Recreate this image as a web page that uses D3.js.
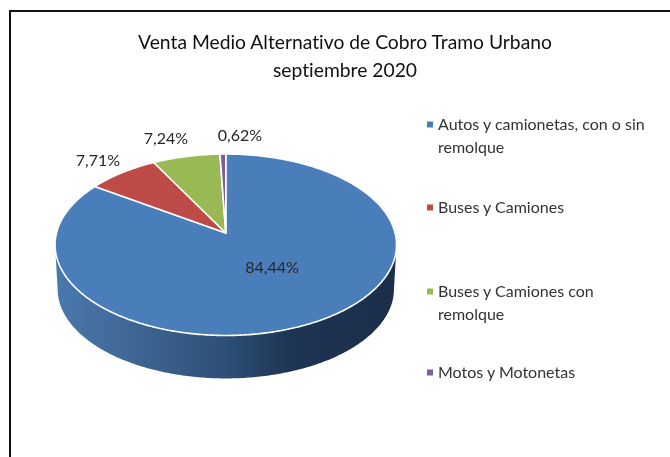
<!DOCTYPE html>
<html><head><meta charset="utf-8">
<script src="https://cdn.jsdelivr.net/npm/d3@7"></script>
<style>html,body{margin:0;padding:0;background:#fff;overflow:hidden}svg{display:block;filter:blur(.55px)}text{font-family:Lato,sans-serif;font-variant-ligatures:none}</style>
</head><body>
<script>
const categories = ["Autos y camionetas, con o sin remolque","Buses y Camiones","Buses y Camiones con remolque","Motos y Motonetas"];
const values = [84.44,7.71,7.24,0.62];
const valueLabels = ["84,44%","7,71%","7,24%","0,62%"];
const colors = ["#4a7ebb","#be4b48","#98b954","#7d5fa0"];
const titleLines = ["Venta Medio Alternativo de Cobro Tramo Urbano","septiembre 2020"];
const legendLines = [["Autos y camionetas, con o sin","remolque"],["Buses y Camiones"],["Buses y Camiones con","remolque"],["Motos y Motonetas"]];

const W=670,H=457;
const svg=d3.select("body").append("svg").attr("width",W).attr("height",H);
svg.append("path").attr("d",`M10,${H}V11H${W}`).attr("fill","none").attr("stroke","#111").attr("stroke-width",2);

// perspective disc projection
const cx=225.8,cy=233,rx=169.3,ry=89.2,k=0.1295;
const proj=(a,r=1,dy=0,s=1)=>{const u=r*Math.sin(a),v=r*Math.cos(a),w=1+k*v;
  return [cx+s*rx*u/w, cy+dy+s*ry*(-v)/w];};
const line=d3.line();
const N=240;
const depth=44.5, sc=0.985;
const ext=Math.acos(-k);
const front=d3.range(N+1).map(i=>ext+(2*Math.PI-2*ext)*i/N);

const defs=svg.append("defs");
const grad=defs.append("linearGradient").attr("id","wall").attr("gradientUnits","userSpaceOnUse")
  .attr("x1",57).attr("x2",393).attr("y1",0).attr("y2",0);
[[0,"#4a78ac"],[.22,"#3e6794"],[.5,"#2e4f77"],[.7,"#1d3452"],[1,"#1b2f4b"]].forEach(d=>grad.append("stop").attr("offset",d[0]).attr("stop-color",d[1]));

const wallPts=front.map(a=>proj(a)).concat(front.slice().reverse().map(a=>proj(a,1,depth,sc)));
svg.append("path").attr("d",line(wallPts)+"Z").attr("fill","url(#wall)");

const pie=d3.pie().sort(null)(values);
svg.selectAll("path.slice").data(pie).enter().append("path").attr("class","slice")
  .attr("d",d=>{const n=Math.max(2,Math.ceil((d.endAngle-d.startAngle)/(2*Math.PI)*N*2));
    const pts=[proj(0,0)].concat(d3.range(n+1).map(i=>proj(d.startAngle+(d.endAngle-d.startAngle)*i/n)));
    return line(pts)+"Z";})
  .attr("fill",(d,i)=>colors[i]).attr("stroke","#fff").attr("stroke-width",1.6).attr("stroke-linejoin","round");

const labelPos=[[272,267],[98,160],[166,138],[240,135]];
svg.selectAll("text.val").data(valueLabels).enter().append("text").attr("class","val")
  .attr("x",(d,i)=>labelPos[i][0]).attr("y",(d,i)=>labelPos[i][1]+6)
  .attr("text-anchor","middle").attr("font-size",16).attr("fill","#262626").text(d=>d);

svg.selectAll("text.title").data(titleLines).enter().append("text").attr("class","title")
  .attr("x",345).attr("y",(d,i)=>i?77:49).attr("text-anchor","middle").attr("font-size",19.3).attr("fill","#111").text(d=>d);

const legendY=[130,213,297,378];
const lg=svg.selectAll("g.lg").data(categories).enter().append("g").attr("class","lg");
lg.append("rect").attr("x",427).attr("y",(d,i)=>legendY[i]-8.5).attr("width",6).attr("height",6).attr("fill",(d,i)=>colors[i]);
lg.each(function(d,i){d3.select(this).selectAll("text").data(legendLines[i]).enter().append("text")
  .attr("x",438).attr("y",(t,j)=>legendY[i]+j*23).attr("font-size",16).attr("fill","#333").text(t=>t);});
</script>
</body></html>
